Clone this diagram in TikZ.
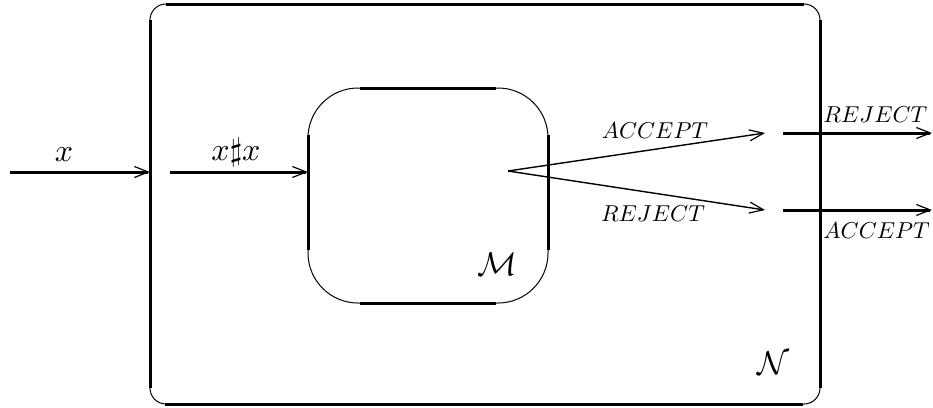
\documentclass[tikz,border=0pt]{standalone}
\usepackage{xcolor}
\usetikzlibrary{arrows.meta}
\tikzset{
  heavy/.style={line width=3pt},
  light/.style={line width=1pt},
  wire/.style={line width=1.4pt},
  barb/.style={-{Straight Barb[length=14pt,width=11pt,line width=1.2pt]}},
  lbl/.style={inner sep=0pt,scale=2.3},
}
\begin{document}
\begin{tikzpicture}[x=1pt,y=-1pt]
\useasboundingbox (0,0) rectangle (933,407);
% outer box N
\draw[light,rounded corners=16] (150,4) rectangle (820,404);
\draw[heavy] (166,4)--(804,4) (165,404)--(803,404) (150,20)--(150,388) (820,20)--(820,388);
\node[inner sep=0pt,scale=3.3] (N) at (773,363) {$\mathcal{N}$};
% inner box M
\draw[light,rounded corners=50] (308,88) rectangle (548,303);
\draw[heavy] (360,88)--(496,88) (360,303)--(496,303) (308,135)--(308,250) (548,135)--(548,250);
\node[inner sep=0pt,scale=3.3] (M) at (497,264) {$\mathcal{M}$};
% connectors
\coordinate (in) at (10,172);
\coordinate (Nin) at (150,172);
\coordinate (dup) at (170,172);
\coordinate (Min) at (308,172);
\coordinate (Mout) at (508,171);
\coordinate (acc) at (765,133);
\coordinate (rej) at (765,210);
\coordinate (top) at (783,133);
\coordinate (bot) at (783,210);
\coordinate (topout) at (932,133);
\coordinate (botout) at (932,210);
\draw[heavy,barb] (in)--(Nin);
\draw[heavy,barb] (dup)--(Min);
\draw[wire,barb] (Mout)--(acc);
\draw[wire,barb] (Mout)--(rej);
\draw[heavy,barb] (top)--(topout);
\draw[heavy,barb] (bot)--(botout);
\node[inner sep=0pt,scale=3.2] (lx) at (64,155) {$x$};
\node[inner sep=0pt,scale=3.2] (lxx) at (236,152) {$x\sharp x$};
\node[lbl] (la) at (655,131) {$ACCEPT$};
\node[lbl] (lr) at (653,214) {$REJECT$};
\node[lbl,anchor=west] (ra) at (823,231) {$ACCEPT$};
\node[lbl,anchor=west] (rr) at (823,115) {$REJECT$};
\end{tikzpicture}
\end{document}
